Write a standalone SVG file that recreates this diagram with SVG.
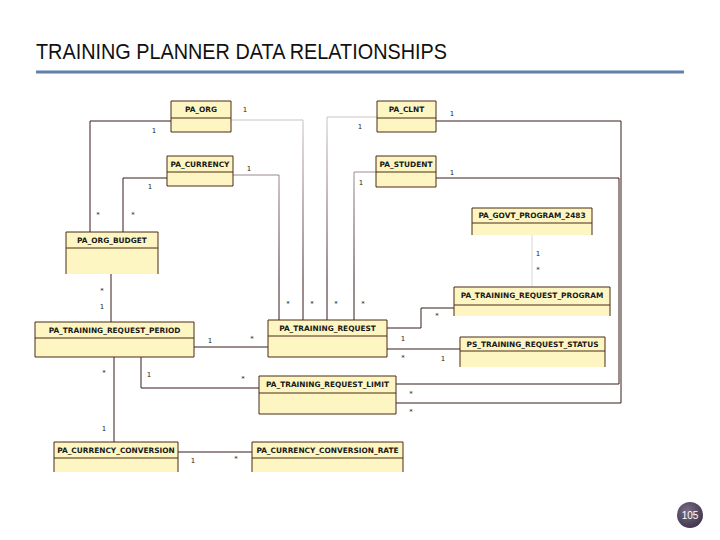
<svg xmlns="http://www.w3.org/2000/svg" width="720" height="540" viewBox="0 0 720 540">
<style>
.nb{fill:#fdf6c3}
.no{fill:none;stroke:#4a2a14;stroke-width:1}
.nt{font-family:"DejaVu Sans",sans-serif;font-size:7.4px;font-weight:bold;fill:#1a1a1a;text-anchor:middle}
.c{fill:none;stroke:#3a1c1c;stroke-width:1}
.cf{fill:none;stroke:url(#fade);stroke-width:1}
.l{font-family:"DejaVu Sans",sans-serif;font-size:7px;fill:#222;text-anchor:middle}
</style>
<defs>
<linearGradient id="fade" gradientUnits="userSpaceOnUse" x1="0" y1="110" x2="0" y2="280">
<stop offset="0" stop-color="#d6cccc"/>
<stop offset="1" stop-color="#3a1c1c"/>
</linearGradient>
<radialGradient id="pg" cx="0.4" cy="0.35" r="0.7">
<stop offset="0" stop-color="#7a6e86"/>
<stop offset="1" stop-color="#3e3348"/>
</radialGradient>
</defs>
<rect width="720" height="540" fill="#ffffff"/>
<text x="36" y="59" font-family="'Liberation Sans',sans-serif" font-size="21.5" fill="#111" textLength="411" lengthAdjust="spacingAndGlyphs">TRAINING PLANNER DATA RELATIONSHIPS</text>
<line x1="36" y1="72" x2="684" y2="72" stroke="#5e81ac" stroke-width="3"/>

<g id="connectors">
<path class="c" d="M171,121 H90 V232"/>
<path class="c" d="M167,178 H123 V232"/>
<path class="cf" d="M231,120 H303 V320"/>
<path class="cf" d="M233,175 H279 V320"/>
<path class="cf" d="M377,117 H327 V320"/>
<path class="cf" d="M376,172 H354 V320"/>
<path class="c" d="M436,121 H621 V403 H396"/>
<path class="c" d="M436,178 H619 V384 H396"/>
<path fill="none" stroke="#dcd6d6" stroke-width="1" d="M532,235 V287"/>
<path class="c" d="M111,274 V322"/>
<path class="c" d="M387,328 H421 V308 H454"/>
<path class="c" d="M387,349 H460"/>
<path class="c" d="M194,347 H268"/>
<path class="c" d="M141,357 V388 H259"/>
<path class="c" d="M114,357 V442"/>
<path class="c" d="M178,452 H252"/>
</g>

<g id="labels">
<text class="l" x="245" y="112">1</text>
<text class="l" x="154" y="133">1</text>
<text class="l" x="98" y="217">*</text>
<text class="l" x="150" y="189">1</text>
<text class="l" x="133" y="217">*</text>
<text class="l" x="249" y="171">1</text>
<text class="l" x="360" y="129">1</text>
<text class="l" x="361" y="185">1</text>
<text class="l" x="452" y="116">1</text>
<text class="l" x="452" y="175">1</text>
<text class="l" x="538" y="256">1</text>
<text class="l" x="538" y="272">*</text>
<text class="l" x="102" y="293">*</text>
<text class="l" x="102" y="309">1</text>
<text class="l" x="288" y="306">*</text>
<text class="l" x="312" y="306">*</text>
<text class="l" x="336" y="306">*</text>
<text class="l" x="363" y="306">*</text>
<text class="l" x="437" y="318">*</text>
<text class="l" x="403" y="341">1</text>
<text class="l" x="403" y="360">*</text>
<text class="l" x="443" y="361">1</text>
<text class="l" x="210" y="343">1</text>
<text class="l" x="252" y="341">*</text>
<text class="l" x="149" y="377">1</text>
<text class="l" x="243" y="381">*</text>
<text class="l" x="104" y="375">*</text>
<text class="l" x="104" y="431">1</text>
<text class="l" x="411" y="396">*</text>
<text class="l" x="411" y="414">*</text>
<text class="l" x="193" y="463">1</text>
<text class="l" x="236" y="461">*</text>
</g>

<g id="PA_ORG">
<rect class="nb" x="171" y="101" width="60" height="31"/>
<path class="no" d="M171,132 V101 H231 V132 H171 M171,118 H231"/>
<text class="nt" x="201" y="112">PA_ORG</text>
</g>
<g id="PA_CURRENCY">
<rect class="nb" x="167" y="156" width="66" height="30"/>
<path class="no" d="M167,186 V156 H233 V186 H167 M167,172 H233"/>
<text class="nt" x="200" y="167">PA_CURRENCY</text>
</g>
<g id="PA_CLNT">
<rect class="nb" x="377" y="101" width="59" height="31"/>
<path class="no" d="M377,132 V101 H436 V132 H377 M377,118 H436"/>
<text class="nt" x="406.5" y="112">PA_CLNT</text>
</g>
<g id="PA_STUDENT">
<rect class="nb" x="376" y="156" width="60" height="31"/>
<path class="no" d="M376,187 V156 H436 V187 H376 M376,172 H436"/>
<text class="nt" x="406" y="167">PA_STUDENT</text>
</g>
<g id="PA_GOVT_PROGRAM_2483">
<rect class="nb" x="472" y="208" width="120" height="27"/>
<path class="no" d="M472,235 V208 H592 V235 M472,223 H592"/>
<text class="nt" x="532" y="218">PA_GOVT_PROGRAM_2483</text>
</g>
<g id="PA_ORG_BUDGET">
<rect class="nb" x="66" y="232" width="92" height="42"/>
<path class="no" d="M66,274 V232 H158 V274 M66,248 H158"/>
<text class="nt" x="112" y="243">PA_ORG_BUDGET</text>
</g>
<g id="PA_TRAINING_REQUEST">
<rect class="nb" x="268" y="320" width="119" height="37"/>
<path class="no" d="M268,357 V320 H387 V357 H268 M268,336 H387"/>
<text class="nt" x="327.5" y="331">PA_TRAINING_REQUEST</text>
</g>
<g id="PA_TRAINING_REQUEST_PROGRAM">
<rect class="nb" x="454" y="287" width="156" height="29"/>
<path class="no" d="M454,316 V287 H610 V316 M454,305 H610"/>
<text class="nt" x="532" y="298">PA_TRAINING_REQUEST_PROGRAM</text>
</g>
<g id="PS_TRAINING_REQUEST_STATUS">
<rect class="nb" x="460" y="337" width="145" height="30"/>
<path class="no" d="M460,367 V337 H605 V367 M460,351 H605"/>
<text class="nt" x="532.5" y="347">PS_TRAINING_REQUEST_STATUS</text>
</g>
<g id="PA_TRAINING_REQUEST_PERIOD">
<rect class="nb" x="35" y="322" width="159" height="35"/>
<path class="no" d="M35,357 V322 H194 V357 H35 M35,338 H194"/>
<text class="nt" x="114.5" y="333">PA_TRAINING_REQUEST_PERIOD</text>
</g>
<g id="PA_TRAINING_REQUEST_LIMIT">
<rect class="nb" x="259" y="376" width="137" height="38"/>
<path class="no" d="M259,414 V376 H396 V414 H259 M259,393 H396"/>
<text class="nt" x="327.5" y="387">PA_TRAINING_REQUEST_LIMIT</text>
</g>
<g id="PA_CURRENCY_CONVERSION">
<rect class="nb" x="54" y="442" width="124" height="30"/>
<path class="no" d="M54,472 V442 H178 V472 M54,458 H178"/>
<text class="nt" x="116" y="453">PA_CURRENCY_CONVERSION</text>
</g>
<g id="PA_CURRENCY_CONVERSION_RATE">
<rect class="nb" x="252" y="442" width="151" height="30"/>
<path class="no" d="M252,472 V442 H403 V472 M252,458 H403"/>
<text class="nt" x="327.5" y="453">PA_CURRENCY_CONVERSION_RATE</text>
</g>

<g id="page">
<circle cx="690" cy="515" r="13" fill="url(#pg)"/>
<text x="690" y="519" font-family="'Liberation Sans',sans-serif" font-size="10" fill="#ffffff" text-anchor="middle">105</text>
</g>
</svg>
